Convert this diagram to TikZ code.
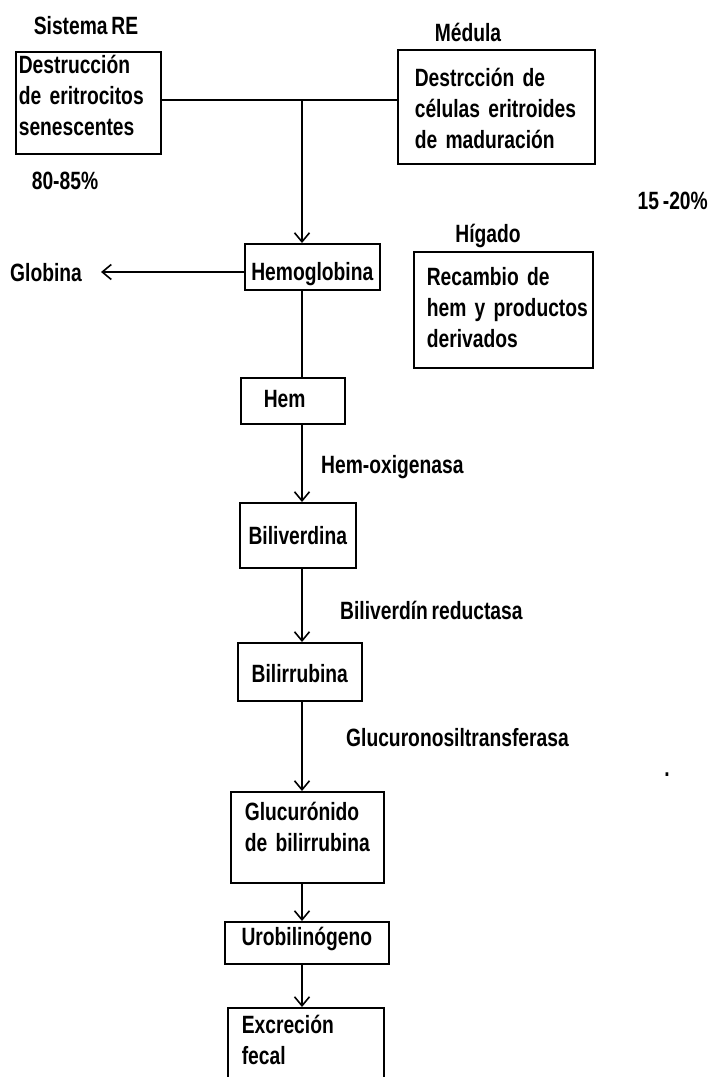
\documentclass[tikz,border=0pt]{standalone}
\usepackage{fontspec}
\setmainfont{Liberation Sans}[FakeStretch=0.77, WordSpace=0.7]
\usetikzlibrary{arrows.meta,positioning,calc}

\begin{document}
\begin{tikzpicture}[
x=1pt, y=-1pt,
every node/.style={font=\fontsize{25}{31}\selectfont\bfseries},
caja/.style={draw, line width=1.6pt, anchor=north west, inner ysep=0pt},
cajaizq/.style={caja, align=left},
etiqueta/.style={inner sep=0pt, anchor=base},
flecha/.style={-{Straight Barb[length=9pt,width=15pt]}, line width=1.6pt},
linea/.style={line width=1.6pt}
]
\useasboundingbox (0,0) rectangle (709,1077);

% cajas
\node[cajaizq, minimum height=102pt, text width=139pt, inner xsep=3pt, text height=0pt, text depth=58pt] (destruccion) at (15,51) {Destrucción\\de eritrocitos\\senescentes};
\node[cajaizq, minimum height=114pt, text width=163pt, inner xsep=17pt, text height=0pt, text depth=40pt] (medula) at (397,49) {Destrcción de\\células eritroides\\de maduración};
\node[caja, minimum width=135pt, minimum height=46pt, text height=28pt, text depth=0pt] (hemoglobina) at (244,243) {Hemoglobina};
\node[cajaizq, minimum height=116pt, text width=153pt, inner xsep=13pt, text height=0pt, text depth=48pt] (higado) at (413,251) {Recambio de\\\mbox{hem y productos}\\derivados};
\node[cajaizq, minimum height=46pt, text width=58pt, inner xsep=23pt, text height=14pt, text depth=0pt] (hem) at (240,377) {Hem};
\node[caja, minimum width=116pt, minimum height=65pt, text height=19pt, text depth=0pt] (biliverdina) at (239,502) {Biliverdina};
\node[caja, minimum width=124pt, minimum height=58pt, text height=22pt, text depth=0pt] (bilirrubina) at (237,642) {Bilirrubina};
\node[cajaizq, minimum height=91pt, text width=125pt, inner xsep=14pt, text height=0pt, text depth=33pt] (glucuronido) at (230,791) {Glucurónido\\de bilirrubina};
\node[caja, minimum width=164pt, minimum height=42pt, text height=6pt, text depth=0pt] (urobilinogeno) at (224,921) {Urobilinógeno};
\node[cajaizq, minimum height=72pt, text width=128pt, inner xsep=14pt, text height=0pt, text depth=20pt] (excrecion) at (227,1007) {Excreción\\fecal};

% etiquetas
\node[etiqueta] (sistema) at (86,34) {Sistema RE};
\node[etiqueta] (medulalbl) at (468,41) {Médula};
\node[etiqueta] (pctre) at (65,189) {80-85\%};
\node[etiqueta, anchor=base east] (pctmed) at (708,209) {15 -20\%};
\node[etiqueta] (globina) at (46,281) {Globina};
\node[etiqueta] (higadolbl) at (488,242) {Hígado};
\node[etiqueta, anchor=base west] (hemox) at (321,473) {Hem-oxigenasa};
\node[etiqueta, anchor=base west] (bilired) at (340,619) {Biliverdín reductasa};
\node[etiqueta, anchor=base west] (glucutr) at (346,746) {Glucuronosiltransferasa};
\node[etiqueta] (punto) at (667,776) {.};

% conectores
\coordinate (j) at (302,100);
\draw[linea] (destruccion.east |- j) -- (medula.west |- j);
\draw[flecha] (j) -- (hemoglobina.north -| j);
\draw[flecha, shorten >=19pt] (hemoglobina.west |- 0,272) -- (globina.east |- 0,272);
\draw[linea] (hemoglobina.south -| j) -- (hem.north -| j);
\draw[flecha] (hem.south -| j) -- (biliverdina.north -| j);
\draw[flecha] (biliverdina.south -| j) -- (bilirrubina.north -| j);
\draw[flecha] (bilirrubina.south -| j) -- (glucuronido.north -| j);
\draw[flecha] (glucuronido.south -| j) -- (urobilinogeno.north -| j);
\draw[flecha] (urobilinogeno.south -| j) -- (excrecion.north -| j);
\end{tikzpicture}
\end{document}
